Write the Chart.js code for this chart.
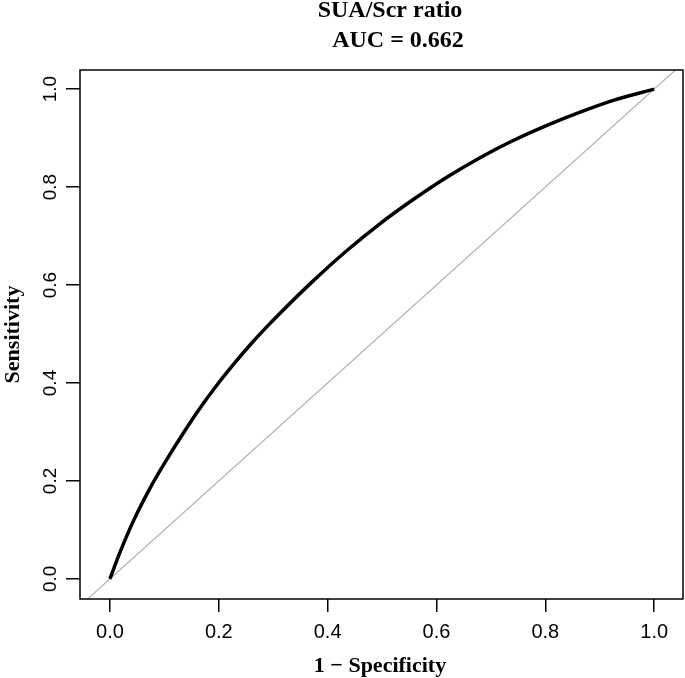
<!DOCTYPE html>
<html>
<head>
<meta charset="utf-8">
<script src="https://cdn.jsdelivr.net/npm/chart.js@4"></script>
<style>
  body { margin: 0; background: #fff; }
  canvas { display: block; }
</style>
</head>
<body>
<canvas id="rocChart" width="685" height="678"></canvas>
<script>
// ROC curve (1 - specificity, sensitivity)
const fprValues = [0, 0.018, 0.043, 0.074, 0.104, 0.135, 0.165, 0.196, 0.227, 0.257, 0.285,
  0.313, 0.374, 0.435, 0.496, 0.558, 0.619, 0.680, 0.741, 0.803, 0.864, 0.925, 1.0];
const tprValues = [0, 0.053, 0.118, 0.186, 0.243, 0.298, 0.348, 0.395, 0.438, 0.477, 0.511,
  0.543, 0.609, 0.670, 0.725, 0.775, 0.820, 0.860, 0.895, 0.926, 0.953, 0.977, 1.0];

// reference diagonal (chance line), runs across the whole plot
const diagX = [-0.06, 1.06];
const diagY = [-0.06, 1.06];

const xTicks = [0, 0.2, 0.4, 0.6, 0.8, 1.0];
const xTickLabels = ['0.0', '0.2', '0.4', '0.6', '0.8', '1.0'];
const yTicks = [0, 0.2, 0.4, 0.6, 0.8, 1.0];
const yTickLabels = ['0.0', '0.2', '0.4', '0.6', '0.8', '1.0'];

const titleLines = ['SUA/Scr ratio', 'AUC = 0.662'];
const xTitle = '1 \u2212 Specificity';
const yTitle = 'Sensitivity';

const serifBold = 'bold 22px "Liberation Serif", "DejaVu Serif", serif';

// box, rotated y labels and the titles (R base-graphics look)
const rPlotExtras = {
  id: 'rPlotExtras',
  afterDraw(chart) {
    const ctx = chart.ctx;
    const a = chart.chartArea;
    const yScale = chart.scales.y;
    ctx.save();
    ctx.strokeStyle = '#000';
    ctx.lineWidth = 1.5;
    ctx.strokeRect(a.left, a.top, a.right - a.left, a.bottom - a.top);

    ctx.fillStyle = '#000';
    ctx.font = '19px "Liberation Sans", Arial, sans-serif';
    ctx.textAlign = 'center';
    ctx.textBaseline = 'alphabetic';
    yTicks.forEach((v, i) => {
      ctx.save();
      ctx.translate(56, yScale.getPixelForValue(v));
      ctx.rotate(-Math.PI / 2);
      ctx.fillText(yTickLabels[i], 0, 0);
      ctx.restore();
    });

    ctx.font = 'bold 24px "Liberation Serif", "DejaVu Serif", serif';
    ctx.fillText(titleLines[0], 390, 17);
    ctx.fillText(titleLines[1], 398, 47);

    ctx.font = serifBold;
    ctx.fillText(xTitle, 380, 672);
    ctx.save();
    ctx.translate(19, (a.top + a.bottom) / 2);
    ctx.rotate(-Math.PI / 2);
    ctx.fillText(yTitle, 0, 0);
    ctx.restore();
    ctx.restore();
  }
};

const ctx = document.getElementById('rocChart').getContext('2d');
const rocChart = new Chart(ctx, {
  type: 'line',
  data: {
    datasets: [{
      label: 'ROC',
      data: fprValues.map((x, i) => ({ x: x, y: tprValues[i] })),
      borderColor: '#000',
      borderWidth: 3.5,
      pointRadius: 0,
      cubicInterpolationMode: 'monotone',
      fill: false,
      order: 0
    }, {
      label: 'Chance',
      data: diagX.map((x, i) => ({ x: x, y: diagY[i] })),
      borderColor: '#b0b0b0',
      borderWidth: 1.2,
      pointRadius: 0,
      fill: false,
      order: 1
    }]
  },
  options: {
    responsive: false,
    devicePixelRatio: 1,
    animation: false,
    layout: { padding: { top: 70, right: 2, left: 0, bottom: 0 } },
    plugins: {
      legend: { display: false },
      tooltip: { enabled: false },
      title: { display: false }
    },
    scales: {
      x: {
        type: 'linear',
        min: -0.055,
        max: 1.053,
        afterBuildTicks: s => { s.ticks = xTicks.map(v => ({ value: v })); },
        afterFit: s => { s.height = 79; },
        ticks: {
          color: '#000',
          padding: 8,
          maxRotation: 0,
          font: { family: '"Liberation Sans", Arial, sans-serif', size: 20 },
          callback: (v) => xTickLabels[xTicks.indexOf(v)]
        },
        grid: { drawOnChartArea: false, drawTicks: true, tickLength: 13, color: '#000', lineWidth: 1.5 },
        border: { display: false }
      },
      y: {
        type: 'linear',
        min: -0.041,
        max: 1.039,
        afterBuildTicks: s => { s.ticks = yTicks.map(v => ({ value: v })); },
        afterFit: s => { s.width = 80; },
        ticks: { display: false },
        grid: { drawOnChartArea: false, drawTicks: true, tickLength: 14, color: '#000', lineWidth: 1.5 },
        border: { display: false }
      }
    }
  },
  plugins: [rPlotExtras]
});
</script>
</body>
</html>
